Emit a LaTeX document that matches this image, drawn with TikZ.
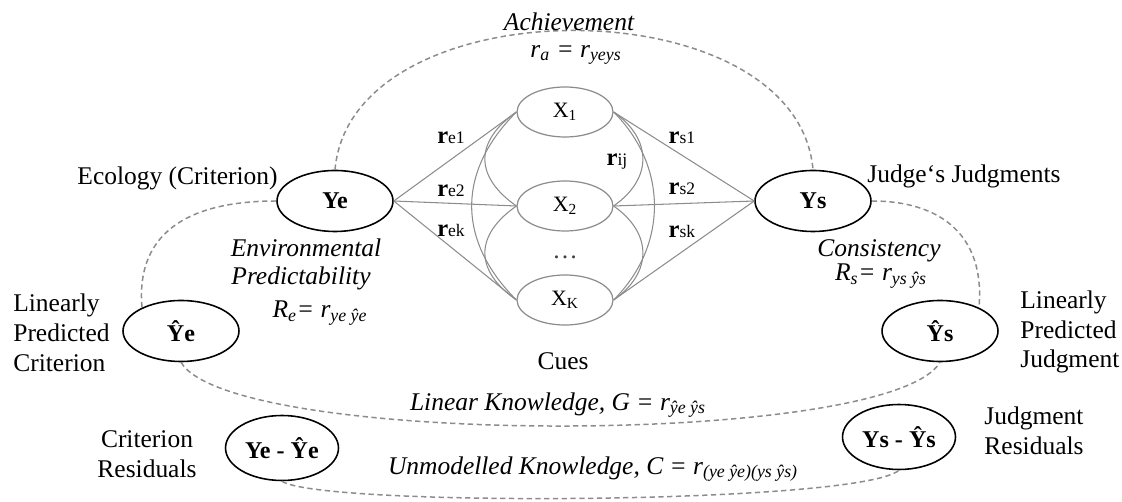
\documentclass[tikz,border=0pt]{standalone}
\usepackage{fontspec}
\setmainfont{Liberation Serif}
\usepackage{xcolor}
\usetikzlibrary{shapes.geometric}

\definecolor{lensgray}{RGB}{140,140,140}
\definecolor{cuegray}{RGB}{140,140,140}

\begin{document}
\begin{tikzpicture}[x=0.02cm, y=0.02cm, line join=round,
  var/.style={ellipse, draw=black, line width=0.9pt, minimum width=2.32cm, minimum height=1.22cm, inner sep=0pt, font=\fontsize{13.7}{16}\selectfont\bfseries},
  resid/.style={var, minimum width=2.26cm, minimum height=1.3cm},
  cue/.style={ellipse, draw=cuegray, line width=0.7pt, minimum width=1.92cm, minimum height=1.0cm, inner sep=0pt, font=\fontsize{12.5}{14}\selectfont},
  link/.style={draw=cuegray, line width=0.6pt},
  lens/.style={draw=lensgray, line width=0.85pt, dash pattern=on 3pt off 2pt},
  lbl/.style={font=\fontsize{14.5}{17}\selectfont, inner sep=0pt},
  stat/.style={font=\fontsize{14.5}{17}\selectfont\itshape, inner sep=0pt},
  corr/.style={font=\fontsize{14}{16}\selectfont, inner sep=0pt}]
\useasboundingbox (0,0) rectangle (1122,-502);

% --- 1. CRITERION AND JUDGMENT ---
  \node[var] (Ye) at (335,-201) {Ye};
  \node[var] (Ys) at (813,-201) {Ys};
  \node[var] (Yhe) at (181,-331) {Ŷe};
  \node[var] (Yhs) at (940,-331) {Ŷs};
  \node[resid] (Yer) at (282,-448) {Ye - Ŷe};
  \node[resid] (Ysr) at (899,-437) {Ys - Ŷs};

% --- 2. THE CUES ---
  \node[cue] (X1) at (565,-112) {X\textsubscript{1}};
  \node[cue] (X2) at (565,-206) {X\textsubscript{2}};
  \node[cue] (XK) at (565,-300) {X\textsubscript{K}};
  \node[lbl, text=black!75] (dots) at (565,-257) {\dots};

  % lines to both sides
  \foreach \c in {X1,X2,XK} {
    \draw[link] (Ye.east) -- (\c.west);
    \draw[link] (Ys.west) -- (\c.east);
  }

  % intercorrelations (left)
  \draw[link] (X1.west) to[out=215, in=145, looseness=1.4] (X2.west);
  \draw[link] (X2.west) to[out=215, in=145, looseness=1.4] (XK.west);
  \draw[link] (X1.west) to[out=225, in=135, looseness=1.15] (XK.west);
  % intercorrelations (right)
  \draw[link] (X1.east) to[out=-35, in=35, looseness=1.3] (X2.east);
  \draw[link] (X2.east) to[out=-35, in=35, looseness=1.3] (XK.east);
  \draw[link] (X1.east) to[out=-45, in=45, looseness=1.05] (XK.east);

  \node[corr] (re1) at (451,-138) {\textbf{r}{\fontsize{10}{12}\selectfont e1}};
  \node[corr] (re2) at (451,-191) {\textbf{r}{\fontsize{10}{12}\selectfont e2}};
  \node[corr] (rek) at (451,-230) {\textbf{r}{\fontsize{10}{12}\selectfont ek}};
  \node[corr] (rs1) at (682,-138) {\textbf{r}{\fontsize{10}{12}\selectfont s1}};
  \node[corr] (rs2) at (682,-189) {\textbf{r}{\fontsize{10}{12}\selectfont s2}};
  \node[corr] (rsk) at (682,-231) {\textbf{r}{\fontsize{10}{12}\selectfont sk}};
  \node[corr] (rij) at (617,-162) {\textbf{r}{\fontsize{10}{12}\selectfont ij}};

% --- 3. THE LENS STATISTICS ---
  \draw[lens] (Ye.north) to[out=85, in=95] (Ys.north);
  \draw[lens] (Ye.west) to[out=180, in=95, looseness=1.2] (Yhe.149);
  \draw[lens] (Ys.east) to[out=0, in=85, looseness=1.2] (Yhs.31);
  \draw[lens] (Yhe.south) .. controls +(50,-85) and +(-50,-85) .. (Yhs.south);
  \draw[lens] (Yer.south) .. controls +(40,-26) and +(-40,-34) .. (Ysr.south);

  \node[stat] (ach) at (569,-22) {Achievement};
  \node[stat] (ra) at (576,-55) {r\textsubscript{a} = r\textsubscript{yeys}};
  \node[stat] (env) at (306,-248) {Environmental};
  \node[stat] (pred) at (301,-278) {Predictability};
  \node[stat] (Re) at (320,-313) {R\textsubscript{e}= r\textsubscript{ye ŷe}};
  \node[stat] (cons) at (879,-251) {Consistency};
  \node[stat] (Rs) at (881,-276) {R\textsubscript{s}= r\textsubscript{ys ŷs}};
  \node[stat] (G) at (558,-405) {Linear Knowledge, G = r\textsubscript{ŷe ŷs}};
  \node[stat] (C) at (593,-469) {Unmodelled Knowledge, C = r\textsubscript{(ye ŷe)(ys ŷs)}};

% --- 4. LABELS ---
  \node[lbl, anchor=east] (eco) at (278,-178) {Ecology (Criterion)};
  \node[lbl, anchor=west] (judge) at (867,-176) {Judge‘s Judgments};
  \node[lbl, anchor=west, align=left] (lpc) at (13,-333) {Linearly\\Predicted\\Criterion};
  \node[lbl, anchor=west, align=left] (lpj) at (1020,-332) {Linearly\\Predicted\\Judgment};
  \node[lbl] (cues) at (563,-361) {Cues};
  \node[lbl, align=center] (cr) at (147,-454) {Criterion\\Residuals};
  \node[lbl, align=center] (jr) at (1034,-431) {Judgment\\Residuals};

\end{tikzpicture}
\end{document}
